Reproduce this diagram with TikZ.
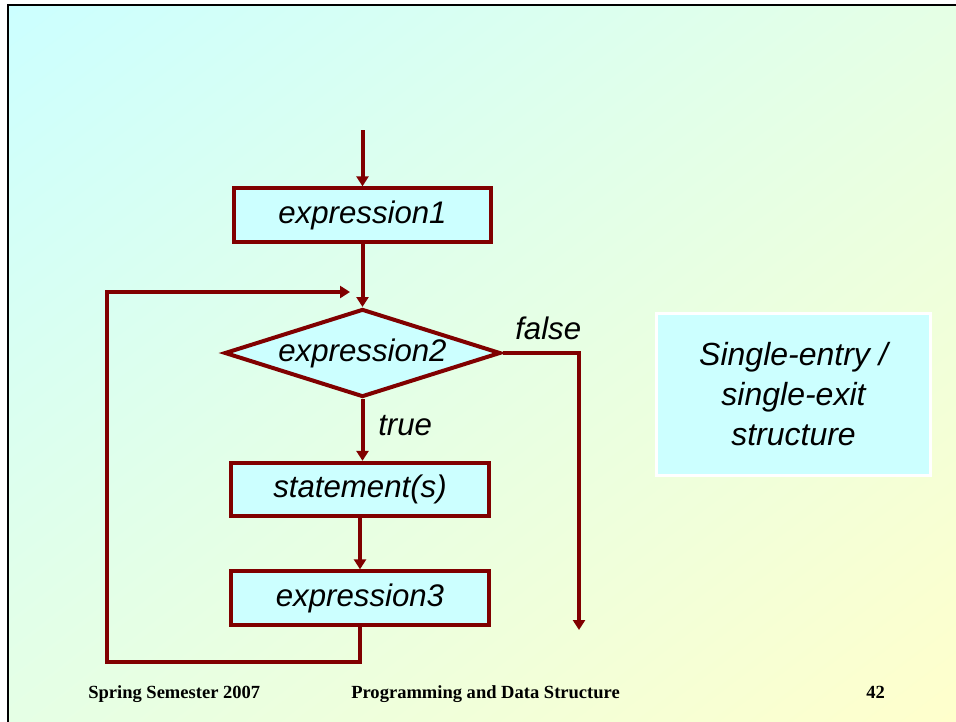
\documentclass[tikz,border=0pt]{standalone}
\usepackage{fontspec}
\setmainfont{Liberation Serif}
\newfontfamily\arialfont{Liberation Sans}
\usetikzlibrary{positioning,shapes.geometric,arrows.meta,shadings}
\definecolor{loopred}{RGB}{128,0,0}
\definecolor{boxcyan}{RGB}{204,255,255}
\definecolor{bgyellow}{RGB}{255,255,204}
\definecolor{bgmid}{RGB}{229,255,229}

\begin{document}
\begin{tikzpicture}[x=0.75pt,y=-0.75pt]
  \tikzstyle{stepbox}=[draw=loopred,line width=3pt,fill=boxcyan,minimum width=193pt,minimum height=40pt,inner sep=0pt,font=\arialfont\itshape\fontsize{23.4}{28}\selectfont]
  \tikzstyle{test}=[stepbox,diamond,aspect=3.1,minimum width=207pt,minimum height=66pt]
  \tikzstyle{flow}=[draw=loopred,line width=3pt,-{Triangle[length=7.5pt,width=9pt]}]
  \tikzstyle{lbl}=[font=\arialfont\itshape\fontsize{23.4}{28}\selectfont,inner sep=0pt,anchor=base west]
  \tikzstyle{foot}=[font=\bfseries\fontsize{13.9}{16}\selectfont,inner sep=0pt,anchor=base west]
  \useasboundingbox (0,0) rectangle (956,721);
  \fill[white] (0,0) rectangle (956,721);
  \shade[upper left=boxcyan,lower right=bgyellow,upper right=bgmid,lower left=bgmid] (8,5) rectangle (956,721);
  \draw[line width=2pt] (8,730) -- (8,5) -- (965,5);
  \node[stepbox] (e1) at (362.5,215) {expression1};
  \node[test] (e2) at (362.5,353) {expression2};
  \node[stepbox] (st) at (360,489.5) {statement(s)};
  \node[stepbox] (e3) at (360,598) {expression3};
  \node[draw=white,line width=2.25pt,fill=boxcyan,minimum width=205pt,minimum height=121pt,align=center,font=\arialfont\itshape\fontsize{24}{30}\selectfont] (note) at (793.5,394.5) {Single-entry /\\single-exit\\structure};
  \coordinate (entry) at (362.5,130);
  \coordinate (exit) at (579,630);
  \coordinate (lb) at (107,662);
  \coordinate (lt) at (350,292);
  \draw[flow] (entry) -- (e1);
  \draw[flow] (e1) -- (e2);
  \draw[flow] (e2.south) -- (e2.south |- st.north);
  \draw[flow] (st) -- (e3);
  \draw[flow] (e3.south) |- (lb) |- (lt);
  \draw[flow] (e2.east) -| (exit);
  \node[lbl] (no) at (515,339) {false};
  \node[lbl] (yes) at (378,435) {true};
  \node[foot] (sem) at (88,698) {Spring Semester 2007};
  \node[foot] (course) at (351,698) {Programming and Data Structure};
  \node[foot] (page) at (866,698) {42};
\end{tikzpicture}
\end{document}
